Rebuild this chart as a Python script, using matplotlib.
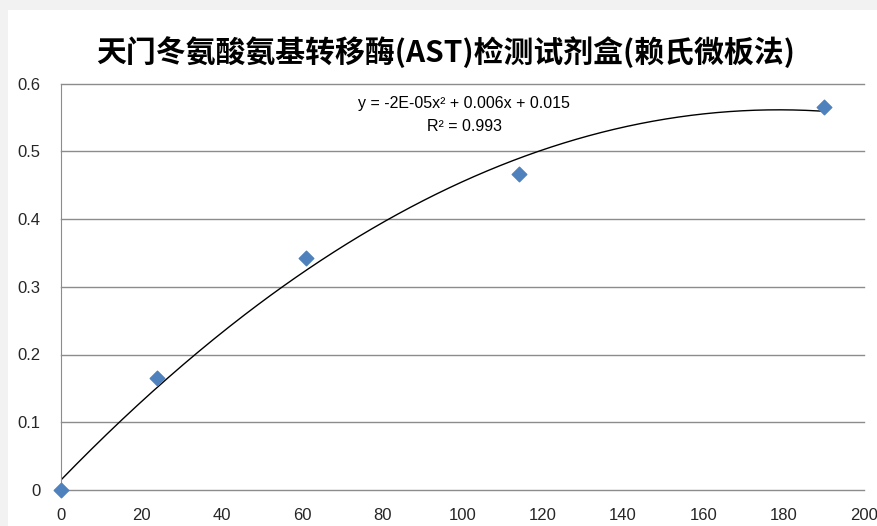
import matplotlib
matplotlib.use("Agg")
import matplotlib.pyplot as plt
from matplotlib.patches import Rectangle
import numpy as np

plt.rcParams['font.family'] = ['Noto Sans CJK SC', 'DejaVu Sans']

# concentration vs absorbance
conc = [0, 24, 61, 114, 190]
absorb = [0.0, 0.165, 0.342, 0.467, 0.565]
title = '天门冬氨酸氨基转移酶(AST)检测试剂盒(赖氏微板法)'
eq_text = 'y = -2E-05x² + 0.006x + 0.015'
r2_text = 'R² = 0.993'
xticks = np.arange(0, 201, 20)
yticks = [0, 0.1, 0.2, 0.3, 0.4, 0.5, 0.6]
ytick_labels = ['0', '0.1', '0.2', '0.3', '0.4', '0.5', '0.6']

fig = plt.figure(figsize=(8.77, 5.26), dpi=100)
fig.patch.set_facecolor('#f2f2f2')
fig.patches.append(Rectangle((8 / 877, 0), 1, 1 - 10 / 526, transform=fig.transFigure,
                             facecolor='white', edgecolor='none', zorder=-1))

ax = fig.add_axes([61 / 877, 36 / 526, 803 / 877, 406.5 / 526])
ax.set_zorder(1)
ax.set_facecolor('none')

# quadratic trendline fitted to the points
coef = np.polyfit(conc, absorb, 2)
xs = np.linspace(min(conc), max(conc), 300)
ax.plot(xs, np.polyval(coef, xs), color='black', lw=1.0, zorder=2)

ax.scatter(conc, absorb, marker='D', s=55, color='#4f81bd', zorder=3, clip_on=False)

ax.set_xlim(0, 200)
ax.set_ylim(0, 0.6)
ax.set_xticks(xticks)
ax.set_yticks(yticks)
ax.set_yticklabels(ytick_labels)
for y in yticks:
    ax.axhline(y, color='#8c8c8c', lw=1.0, zorder=1, clip_on=False)
ax.tick_params(length=0, labelsize=12, colors='#262626')
ax.tick_params(axis='x', pad=13)
ax.tick_params(axis='y', pad=15)
for s in ['top', 'right', 'bottom']:
    ax.spines[s].set_visible(False)
ax.spines['left'].set_color('#8c8c8c')

for lab in ax.get_xticklabels() + ax.get_yticklabels():
    lab.set_family(['Liberation Sans', 'DejaVu Sans'])

ax.text(0.502, 0.95, eq_text, transform=ax.transAxes, ha='center', va='center',
        fontsize=11.5, family=['Liberation Sans', 'DejaVu Sans'])
ax.text(0.502, 0.895, r2_text, transform=ax.transAxes, ha='center', va='center',
        fontsize=11.5, family=['Liberation Sans', 'DejaVu Sans'])

fig.text(446 / 877, 1 - 52 / 526, title, ha='center', va='center',
         fontsize=21.5, fontweight='bold')

fig.savefig('out.png', dpi=100, facecolor=fig.get_facecolor())
